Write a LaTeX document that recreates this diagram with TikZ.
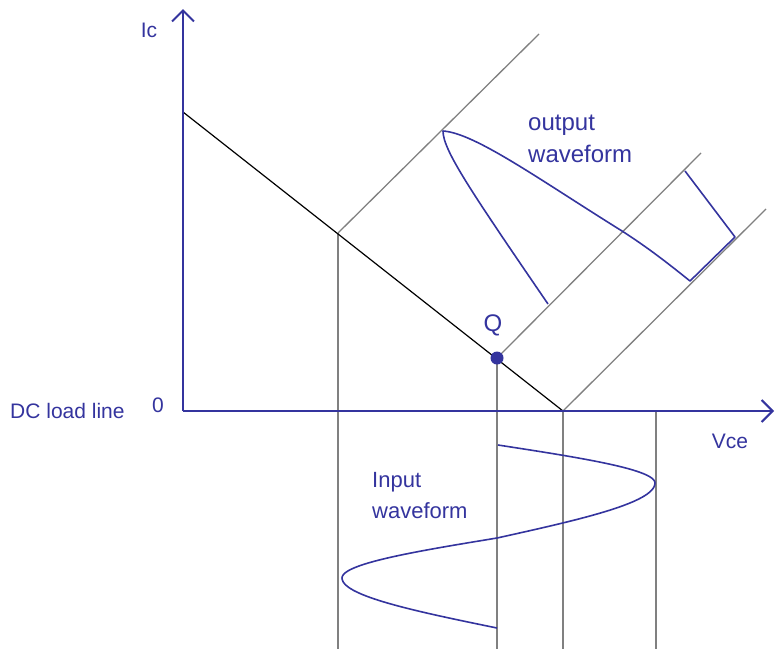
\documentclass[tikz,border=0pt]{standalone}
\usepackage{fontspec}
\setmainfont{Liberation Sans}
\usetikzlibrary{arrows.meta}
\definecolor{dblue}{RGB}{52,52,158}
\definecolor{lgray}{RGB}{128,128,128}
\tikzset{
  axisline/.style={draw=dblue, line width=2pt, -{Straight Barb[length=11pt,width=22pt]}},
  guide/.style={draw=lgray, line width=1.3pt},
  loadline/.style={draw=black, line width=1.2pt},
  wave/.style={draw=dblue, line width=1.6pt, line join=round},
  lbl/.style={text=dblue, inner sep=0pt, font=\fontsize{22}{26}\selectfont},
  lblsmall/.style={lbl, font=\fontsize{21}{25}\selectfont},
  lblbig/.style={lbl, font=\fontsize{24}{28}\selectfont},
}
\begin{document}
\begin{tikzpicture}[x=1pt,y=-1pt]
\useasboundingbox (0,0) rectangle (775,649);
% key points
\coordinate (O) at (183,411);
\coordinate (Ytop) at (183,9);
\coordinate (Xend) at (774,411);
\coordinate (A) at (183,112);
\coordinate (B) at (563,411);
\coordinate (P) at (338,233);
\coordinate (Q) at (497,358);
\coordinate (P1) at (539,34);
\coordinate (Q1) at (701,153);
\coordinate (B1) at (766,209);
\coordinate (Pb) at (338,649);
\coordinate (Qb) at (497,649);
\coordinate (Bb) at (563,649);
\coordinate (Ct) at (656,411);
\coordinate (Cb) at (656,649);
% guide lines
\draw[guide] (P) -- (Pb);
\draw[guide] (Q) -- (Qb);
\draw[guide] (B) -- (Bb);
\draw[guide] (Ct) -- (Cb);
\draw[guide] (P) -- (P1);
\draw[guide] (Q) -- (Q1);
\draw[guide] (B) -- (B1);
% load line
\draw[loadline] (A) -- (B);
% axes
\draw[axisline] (O) -- (Ytop);
\draw[axisline] (O) -- (Xend);
% Q point
\fill[dblue] (Q) circle (6.5pt);
% output waveform
\draw[wave] (548,304) .. controls (470,190) and (443,150) .. (443,131)
  .. controls (475,133) and (540,180) .. (622,231)
  .. controls (650,249) and (670,265) .. (690,281) -- (735,237) -- (685,171);
% input waveform
\draw[wave] plot[domain=0:90,samples=25] ({498+157*sin(\x)},{445+38*\x/90})
  -- plot[domain=90:180,samples=25] ({497+158*sin(\x)},{483+55*(\x-90)/90})
  -- plot[domain=180:270,samples=25] ({497+155*sin(\x)},{538+40*(\x-180)/90})
  -- plot[domain=270:360,samples=25] ({497+155*sin(\x)},{578+50*(\x-270)/90});
% labels
\node[lblsmall, anchor=base] (lIc) at (149,37) {Ic};
\node[lblsmall, anchor=base west] (lDC) at (10,418) {DC load line};
\node[lblsmall, anchor=base] (lzero) at (158,412) {0};
\node[lblbig, anchor=base] (lQ) at (493,331) {Q};
\node[lblsmall, anchor=base] (lVce) at (730,448) {Vce};
\node[lblbig, anchor=base west] (lout1) at (528,130) {output};
\node[lblbig, anchor=base west] (lout2) at (528,162) {waveform};
\node[lbl, anchor=base west] (lin1) at (372,487) {Input};
\node[lbl, anchor=base west] (lin2) at (372,518) {waveform};
\end{tikzpicture}
\end{document}
